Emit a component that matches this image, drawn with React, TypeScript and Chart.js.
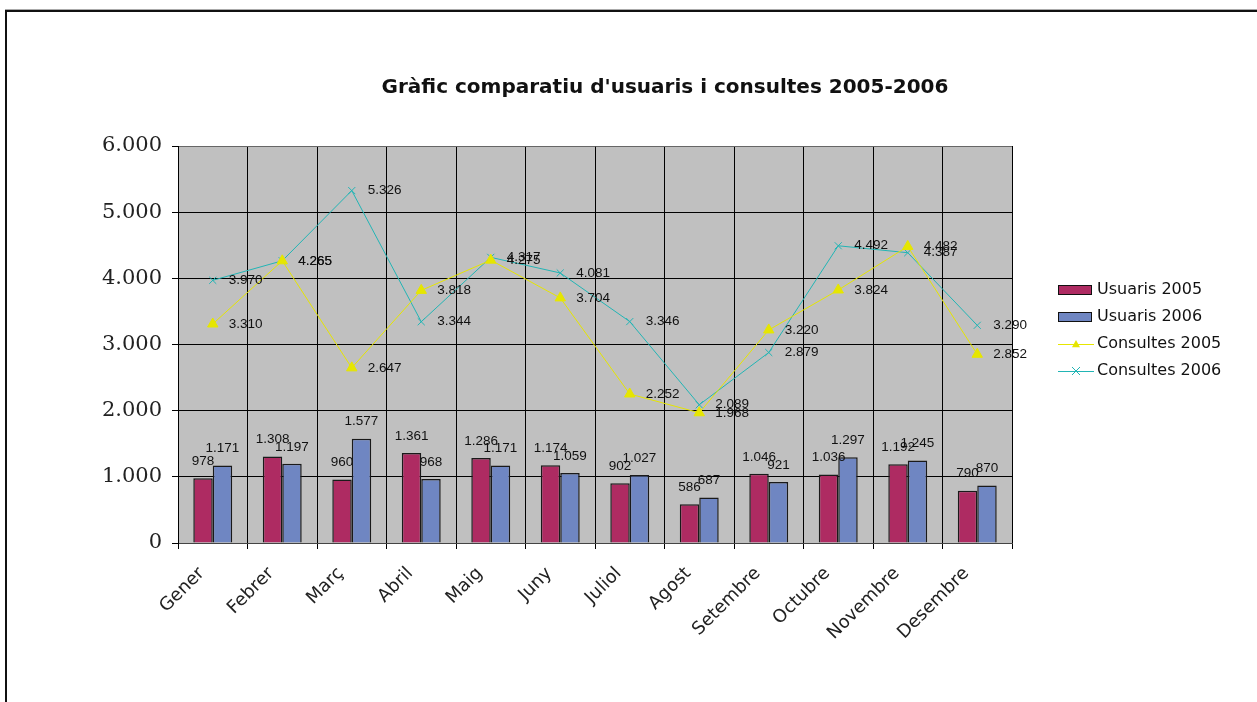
import React, { useEffect, useRef } from "react";
import { Chart, registerables } from "chart.js";

Chart.register(...registerables);

const months = ["Gener", "Febrer", "Març", "Abril", "Maig", "Juny", "Juliol", "Agost", "Setembre", "Octubre", "Novembre", "Desembre"];
const usuaris2005 = [978, 1308, 960, 1361, 1286, 1174, 902, 586, 1046, 1036, 1192, 790];
const usuaris2006 = [1171, 1197, 1577, 968, 1171, 1059, 1027, 687, 921, 1297, 1245, 870];
const consultes2005 = [3310, 4265, 2647, 3818, 4275, 3704, 2252, 1968, 3220, 3824, 4482, 2852];
const consultes2006 = [3970, 4265, 5326, 3344, 4317, 4081, 3346, 2089, 2879, 4492, 4387, 3290];
const yTicks = [0, 1000, 2000, 3000, 4000, 5000, 6000];

const TITLE = "Gràfic comparatiu d'usuaris i consultes 2005-2006";
const RED = "#AE2B62";
const BLUE = "#6F86C2";
const YELLOW = "#E6E600";
const CYAN = "#22B5B5";
const PLOT_BG = "#C0C0C0";

function fmt(n: number): string {
  const s = String(Math.round(n));
  if (s.length > 3) return s.slice(0, s.length - 3) + "." + s.slice(s.length - 3);
  return s;
}

function drawTriangle(ctx: CanvasRenderingContext2D, x: number, y: number, r: number, color: string) {
  ctx.save();
  ctx.fillStyle = color;
  ctx.beginPath();
  ctx.moveTo(x, y - r);
  ctx.lineTo(x + r, y + r * 0.8);
  ctx.lineTo(x - r, y + r * 0.8);
  ctx.closePath();
  ctx.fill();
  ctx.restore();
}

function drawCross(ctx: CanvasRenderingContext2D, x: number, y: number, r: number, color: string) {
  ctx.save();
  ctx.strokeStyle = color;
  ctx.lineWidth = 1;
  ctx.beginPath();
  ctx.moveTo(x - r, y - r);
  ctx.lineTo(x + r, y + r);
  ctx.moveTo(x + r, y - r);
  ctx.lineTo(x - r, y + r);
  ctx.stroke();
  ctx.restore();
}

const decorPlugin = {
  id: "decor",
  beforeDraw(chart: any) {
    const ctx = chart.ctx as CanvasRenderingContext2D;
    const a = chart.chartArea;
    ctx.save();
    ctx.fillStyle = "#ffffff";
    ctx.fillRect(0, 0, chart.width, chart.height);
    // page frame
    ctx.fillStyle = "#aaaaaa";
    ctx.fillRect(5, 9, chart.width - 5, 1);
    ctx.fillStyle = "#111111";
    ctx.fillRect(5, 10, chart.width - 5, 2);
    ctx.fillRect(5, 10, 2, chart.height - 10);
    // plot background
    ctx.fillStyle = PLOT_BG;
    ctx.fillRect(a.left, a.top, a.right - a.left, a.bottom - a.top);
    ctx.restore();
  },
  afterDatasetsDraw(chart: any) {
    const ctx = chart.ctx as CanvasRenderingContext2D;
    ctx.save();
    ctx.font = "13.5px 'Liberation Sans', Arial, sans-serif";
    ctx.fillStyle = "#111111";
    chart.data.datasets.forEach((ds: any, i: number) => {
      const meta = chart.getDatasetMeta(i);
      meta.data.forEach((el: any, j: number) => {
        const v = ds.data[j];
        if (ds.type === "bar") {
          ctx.textAlign = "center";
          ctx.textBaseline = "middle";
          ctx.fillText(fmt(v), el.x, el.y - 17);
        } else {
          ctx.textAlign = "left";
          ctx.textBaseline = "middle";
          ctx.fillText(fmt(v), el.x + 16, el.y);
        }
      });
    });
    ctx.restore();
  },
  afterDraw(chart: any) {
    const ctx = chart.ctx as CanvasRenderingContext2D;
    ctx.save();
    // title
    ctx.font = "bold 20px 'DejaVu Sans', sans-serif";
    ctx.fillStyle = "#111111";
    ctx.textAlign = "center";
    ctx.textBaseline = "middle";
    ctx.fillText(TITLE, 665, 88);

    // legend
    const items = [
      { label: "Usuaris 2005", kind: "bar", color: RED },
      { label: "Usuaris 2006", kind: "bar", color: BLUE },
      { label: "Consultes 2005", kind: "tri", color: YELLOW },
      { label: "Consultes 2006", kind: "cross", color: CYAN },
    ];
    const ys = [290, 317, 344, 371];
    items.forEach((it, k) => {
      const y = ys[k];
      if (it.kind === "bar") {
        ctx.fillStyle = it.color;
        ctx.fillRect(1058, y - 5, 34, 10);
        ctx.strokeStyle = "#111111";
        ctx.lineWidth = 1;
        ctx.strokeRect(1058.5, y - 4.5, 33, 9);
      } else {
        ctx.strokeStyle = it.color;
        ctx.lineWidth = 1;
        ctx.beginPath();
        ctx.moveTo(1058, y + 0.5);
        ctx.lineTo(1094, y + 0.5);
        ctx.stroke();
        if (it.kind === "tri") drawTriangle(ctx, 1076, y, 4, it.color);
        else drawCross(ctx, 1076, y, 4, it.color);
      }
      ctx.fillStyle = "#111111";
      ctx.font = "16px 'DejaVu Sans', sans-serif";
      ctx.textAlign = "left";
      ctx.textBaseline = "middle";
      ctx.fillText(it.label, 1097, y);
    });
    ctx.restore();
  },
};

export default function App() {
  const ref = useRef<HTMLCanvasElement | null>(null);
  useEffect(() => {
    if (!ref.current) return;
    const chart = new Chart(ref.current, {
      type: "bar",
      data: {
        labels: months,
        datasets: [
          {
            type: "bar",
            label: "Usuaris 2005",
            data: usuaris2005,
            backgroundColor: RED,
            borderColor: "#1a1a1a",
            borderWidth: 1.5,
            categoryPercentage: 0.56,
            barPercentage: 1,
            order: 2,
          },
          {
            type: "bar",
            label: "Usuaris 2006",
            data: usuaris2006,
            backgroundColor: BLUE,
            borderColor: "#1a1a1a",
            borderWidth: 1.5,
            categoryPercentage: 0.56,
            barPercentage: 1,
            order: 2,
          },
          {
            type: "line",
            label: "Consultes 2005",
            data: consultes2005,
            borderColor: YELLOW,
            backgroundColor: YELLOW,
            borderWidth: 1,
            pointStyle: "triangle",
            pointRadius: 6,
            pointBackgroundColor: YELLOW,
            pointBorderColor: YELLOW,
            tension: 0,
            order: 1,
          },
          {
            type: "line",
            label: "Consultes 2006",
            data: consultes2006,
            borderColor: CYAN,
            backgroundColor: CYAN,
            borderWidth: 1,
            pointStyle: "crossRot",
            pointRadius: 5,
            pointBorderColor: CYAN,
            pointBorderWidth: 1,
            tension: 0,
            order: 1,
          },
        ] as any,
      },
      options: {
        responsive: false,
        animation: false,
        layout: { padding: { top: 146, right: 245, left: 0, bottom: 0 } },
        plugins: {
          legend: { display: false },
          title: { display: false },
          tooltip: { enabled: false },
        },
        scales: {
          x: {
            offset: true,
            grid: {
              offset: true,
              color: (c: any) => (c.index === months.length ? "#808080" : "#000000"),
              tickColor: "#000000",
              tickLength: 6,
              lineWidth: 1,
            },
            border: { color: "#444444" },
            ticks: {
              minRotation: 45,
              maxRotation: 45,
              autoSkip: false,
              font: { family: "'DejaVu Sans', sans-serif", size: 18 },
              color: "#222222",
              padding: 14,
              labelOffset: -11,
            },
            afterFit: (s: any) => {
              s.height = 159;
            },
          },
          y: {
            min: 0,
            max: 6000,
            afterBuildTicks: (s: any) => {
              s.ticks = yTicks.map((v) => ({ value: v }));
            },
            ticks: {
              callback: (v: any) => fmt(Number(v)),
              font: { family: "'DejaVu Serif', serif", size: 21 },
              color: "#222222",
              padding: 10,
            },
            grid: {
              color: (c: any) => (c.tick && c.tick.value === 6000 ? "#666666" : "#000000"),
              tickColor: "#000000",
              tickLength: 6,
              lineWidth: 1,
            },
            border: { color: "#000000" },
            afterFit: (s: any) => {
              s.width = 178;
            },
          },
        },
      } as any,
      plugins: [decorPlugin],
    });
    return () => chart.destroy();
  }, []);

  return (
    <div style={{ position: "fixed", left: 0, top: 0, width: 1257, height: 702, background: "#fff" }}>
      <canvas ref={ref} width={1257} height={702} style={{ display: "block" }} />
    </div>
  );
}
